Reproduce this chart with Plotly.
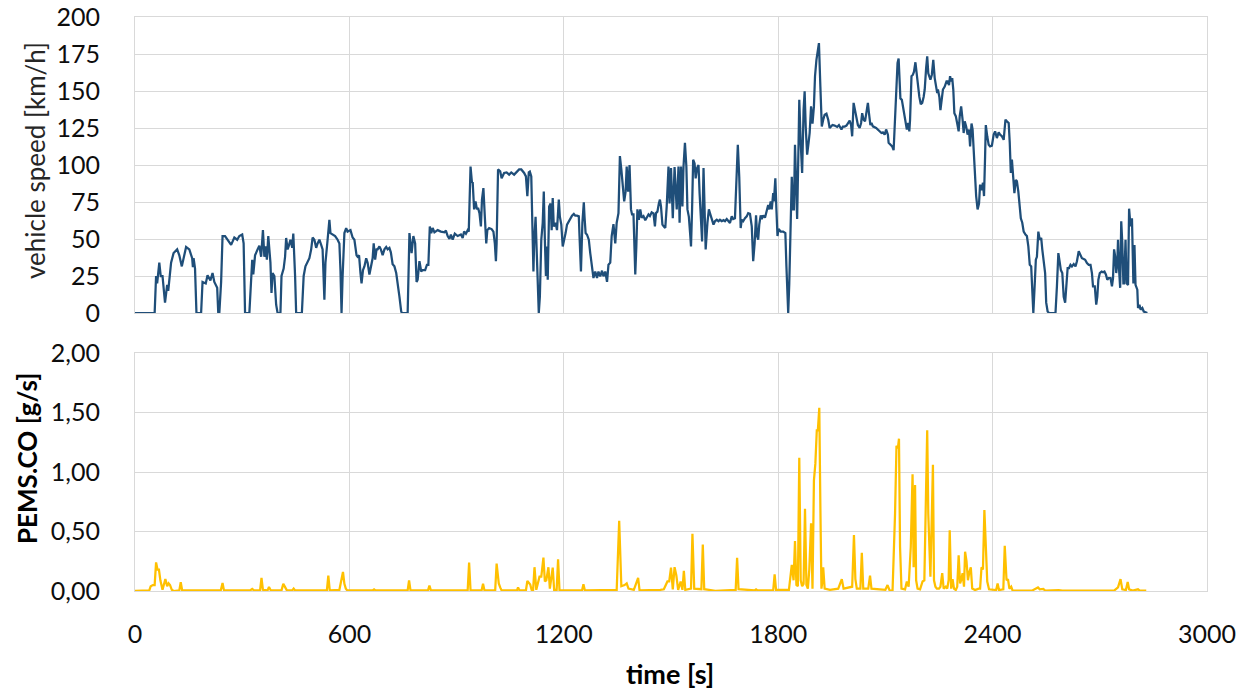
import plotly.graph_objects as go
from plotly.subplots import make_subplots

# Vehicle speed trace [km/h] over test time [s]
speed_time = [
    0, 30, 45, 50, 55, 59, 62, 68, 72, 77, 84, 90, 93, 101, 108, 118, 124, 131, 137, 143,
    152, 160, 162, 164, 168, 172, 185, 189, 198, 203, 211, 217, 222, 230, 233, 236, 241, 245, 252, 259,
    269, 278, 286, 292, 300, 304, 308, 320, 325, 328, 331, 336, 343, 348, 353, 358, 362, 366, 369, 373,
    379, 382, 385, 390, 395, 399, 407, 410, 416, 420, 423, 427, 430, 435, 440, 443, 448, 451, 467, 472,
    477, 483, 488, 493, 497, 502, 507, 511, 516, 521, 525, 530, 533, 539, 544, 547, 553, 560, 567, 572,
    575, 578, 581, 586, 591, 595, 603, 609, 614, 620, 623, 627, 631, 634, 638, 642, 647, 651, 656, 661,
    665, 668, 672, 676, 679, 684, 688, 693, 698, 703, 707, 712, 716, 721, 726, 731, 735, 740, 745, 747,
    763, 768, 774, 779, 784, 788, 791, 796, 801, 805, 812, 817, 821, 825, 829, 833, 838, 847, 856, 866,
    870, 875, 880, 884, 889, 895, 903, 912, 917, 921, 926, 931, 934, 939, 943, 945, 949, 953, 957, 960,
    964, 968, 971, 975, 979, 983, 986, 991, 998, 1003, 1007, 1010, 1012, 1016, 1022, 1026, 1033, 1040, 1047, 1053,
    1061, 1068, 1075, 1081, 1089, 1094, 1098, 1102, 1105, 1109, 1112, 1115, 1117, 1121, 1124, 1128, 1130, 1133, 1137, 1141,
    1144, 1147, 1150, 1153, 1155, 1159, 1163, 1166, 1169, 1172, 1177, 1181, 1186, 1189, 1193, 1197, 1200, 1205, 1209, 1214,
    1219, 1223, 1228, 1232, 1237, 1242, 1244, 1248, 1252, 1256, 1258, 1261, 1265, 1270, 1274, 1279, 1283, 1288, 1293, 1297,
    1302, 1307, 1311, 1316, 1321, 1325, 1330, 1334, 1339, 1344, 1348, 1353, 1357, 1361, 1365, 1369, 1373, 1376, 1380, 1384,
    1388, 1391, 1395, 1400, 1403, 1406, 1410, 1414, 1418, 1423, 1428, 1432, 1437, 1441, 1446, 1451, 1455, 1458, 1462, 1466,
    1469, 1472, 1476, 1480, 1484, 1488, 1493, 1496, 1500, 1505, 1510, 1516, 1521, 1524, 1528, 1532, 1535, 1539, 1543, 1546,
    1550, 1554, 1556, 1559, 1562, 1566, 1569, 1573, 1577, 1580, 1584, 1587, 1591, 1594, 1597, 1602, 1606, 1609, 1614, 1619,
    1623, 1628, 1633, 1637, 1642, 1647, 1651, 1656, 1661, 1665, 1670, 1674, 1679, 1684, 1687, 1691, 1695, 1698, 1702, 1707,
    1712, 1716, 1721, 1726, 1730, 1734, 1738, 1741, 1744, 1747, 1751, 1754, 1758, 1763, 1767, 1772, 1775, 1779, 1782, 1786,
    1788, 1792, 1795, 1798, 1801, 1807, 1814, 1820, 1823, 1826, 1828, 1831, 1834, 1838, 1841, 1844, 1847, 1850, 1853, 1857,
    1859, 1863, 1867, 1871, 1874, 1877, 1881, 1885, 1888, 1892, 1896, 1900, 1903, 1907, 1911, 1914, 1918, 1922, 1926, 1930,
    1935, 1940, 1944, 1952, 1958, 1965, 1970, 1977, 1981, 1986, 1991, 1995, 2000, 2004, 2007, 2011, 2015, 2019, 2023, 2028,
    2032, 2035, 2039, 2043, 2047, 2051, 2054, 2058, 2061, 2065, 2074, 2084, 2089, 2093, 2098, 2102, 2107, 2109, 2113, 2119,
    2123, 2126, 2130, 2134, 2137, 2140, 2142, 2146, 2149, 2153, 2156, 2160, 2164, 2167, 2169, 2173, 2177, 2180, 2184, 2188,
    2192, 2195, 2199, 2203, 2207, 2210, 2214, 2217, 2220, 2223, 2226, 2230, 2234, 2238, 2242, 2245, 2247, 2251, 2254, 2258,
    2261, 2266, 2271, 2274, 2278, 2281, 2284, 2287, 2290, 2293, 2297, 2301, 2305, 2308, 2312, 2316, 2319, 2322, 2326, 2330,
    2334, 2337, 2341, 2344, 2347, 2350, 2354, 2358, 2362, 2365, 2369, 2373, 2376, 2379, 2381, 2385, 2389, 2393, 2398, 2403,
    2407, 2412, 2417, 2421, 2426, 2431, 2436, 2440, 2445, 2448, 2451, 2454, 2457, 2461, 2465, 2468, 2472, 2476, 2479, 2483,
    2487, 2492, 2496, 2500, 2504, 2508, 2512, 2514, 2518, 2521, 2524, 2528, 2532, 2536, 2539, 2543, 2547, 2550, 2554, 2558,
    2576, 2580, 2584, 2588, 2591, 2595, 2599, 2603, 2606, 2610, 2614, 2618, 2622, 2627, 2632, 2636, 2641, 2646, 2650, 2655,
    2659, 2664, 2669, 2674, 2678, 2681, 2686, 2690, 2693, 2696, 2700, 2705, 2709, 2713, 2717, 2721, 2725, 2730, 2734, 2737,
    2740, 2743, 2746, 2749, 2751, 2754, 2757, 2760, 2763, 2766, 2768, 2772, 2775, 2779, 2782, 2786, 2790, 2794, 2797, 2800,
    2805, 2807, 2811, 2814, 2819, 2823, 2828, 2833,
]
speed_kmh = [
    0, 0, 0.5, 0, 0, 25, 20, 34, 25, 25, 7, 19, 15, 34, 40.5, 43, 39, 31.5, 38, 44.6,
    43, 37, 31, 37, 30, 0, 0, 21, 20, 25.5, 22, 27, 21, 17, 0, 0, 21, 52, 52, 49.5,
    46, 51, 49.5, 52, 53, 47, 0, 0, 29, 36, 26, 39, 43, 45.5, 38, 56, 38, 45, 36, 52,
    34, 13.5, 27, 25, 5.6, 0, 0, 25, 30, 38, 50.7, 43, 45, 49.5, 44, 53.6, 25, 0, 0, 25,
    31.5, 35, 37, 43, 51, 49.5, 44, 47, 49.5, 46, 43, 9, 34, 49.5, 63, 54, 53, 52, 49.5, 47,
    29, 0, 25, 54, 57.4, 55, 56, 51, 49.5, 39, 38, 39, 27, 20, 29, 31.5, 37, 34, 26, 31.5,
    37, 47, 36, 43, 43, 45, 43, 39, 43, 44.6, 43, 44, 41, 33, 31.5, 27, 18, 11, 1, 0,
    0, 54, 40.5, 52, 47, 21, 22.5, 35, 28, 29, 29, 32.6, 32.6, 58.5, 54, 57.4, 54.5, 56, 55, 54.5,
    55.7, 52, 50, 53, 49.5, 53.6, 52, 53, 50.7, 55, 53.6, 56, 55, 99, 88, 88.4, 70, 75.4, 70, 71,
    67.5, 58.5, 76.6, 84.4, 65, 47, 56, 57.4, 56.7, 55, 47, 35, 47, 97, 95.7, 91, 94.6, 95, 93.5, 95,
    93.5, 95, 97, 97, 94.6, 92.3, 79, 95, 95.5, 92.3, 58.5, 28, 47, 65, 43, 9, 0, 11, 49.5, 61,
    82, 49.5, 25, 45, 22.5, 72, 74, 56, 77.7, 58.5, 61, 56, 76.6, 65, 59.7, 45, 49.5, 54, 59.7, 62,
    64, 65.8, 67, 65.8, 65.8, 65.3, 52, 28, 61, 74.8, 65, 54, 52.9, 49.5, 40.5, 31.5, 23.6, 28, 23.6, 28,
    24.8, 28.6, 24.8, 28, 21, 32.6, 34, 52, 60, 47, 61, 67.5, 106, 97, 88, 75.4, 82, 99, 82, 100,
    70, 66.6, 66.6, 26, 45, 70, 63, 70, 64.4, 65.5, 62.7, 65, 66.6, 65.5, 68, 67.3, 58.5, 67.5, 68.5, 74,
    76.6, 72, 59.7, 58.5, 57.4, 72, 99, 74, 98, 64, 98.6, 70, 99, 61, 99, 72, 99, 115, 99, 70,
    65, 52, 45, 70, 103.6, 101, 91, 98, 100, 81, 58.5, 48.4, 98, 58.5, 43, 61, 70, 67.5, 63, 59.7,
    62, 63, 62, 63, 62, 62.7, 62, 63.5, 62, 60.8, 65.3, 63.5, 64, 92, 113.7, 92, 57.4, 63, 62, 64,
    65.3, 67.5, 67, 58.5, 35, 47, 66, 52, 49.5, 59.7, 66, 63.5, 66, 64.4, 68, 73, 70, 75.4, 70, 81,
    75.4, 91, 70, 52, 56.7, 55, 55, 54, 31.5, 9, 0, 20, 47, 92, 70, 70, 113.7, 88, 63.5, 115,
    144, 115, 94.6, 137, 149.8, 126, 107, 115, 121.6, 139.6, 128, 139.6, 160, 171, 180, 182.4, 153, 126, 130.6, 134,
    134.7, 130.6, 125, 127, 126.6, 125.7, 127, 124, 126, 126, 126.6, 128, 130, 127, 119.4, 142, 137.5, 133, 127, 125,
    128.4, 135, 130.6, 129.5, 135, 142, 135, 127, 128.4, 126.1, 125, 122.7, 121.6, 122, 120.5, 124, 120.5, 115, 113.7, 112.6,
    110, 124, 146, 169, 172, 160, 145, 144, 139.6, 133, 127, 124, 128.4, 122.7, 130.6, 160, 161, 163, 169.4, 160,
    154, 146, 141, 142, 146, 151, 165.6, 173.4, 162, 158.7, 157.6, 161, 171, 158.7, 154, 148.6, 151, 146, 137, 144,
    151, 153, 156.5, 156.5, 154, 160, 156.5, 158.7, 151, 135, 133, 128, 122.7, 133, 139.6, 130.6, 121.6, 129.5, 126, 120.5,
    124, 112.6, 128, 124, 108, 97, 79, 70, 74, 86.7, 83, 88, 79, 106, 127, 119.4, 113.7, 112.6, 113, 120.5,
    122.7, 118.2, 122, 120.5, 119.4, 117, 130.6, 129.5, 128.4, 115, 94.6, 103.6, 93.5, 81, 90, 89, 82, 74, 64, 61,
    55, 53, 52, 45, 32.6, 31.5, 13.5, 0, 20, 36, 38, 55, 49.5, 50.7, 43, 36, 27, 7, 1, 0,
    0, 18, 40.5, 34, 29, 27, 11, 7, 20, 30.4, 30.4, 32.6, 31.5, 33, 31.5, 35, 41.7, 38.3, 37, 36.5,
    36, 33.8, 32.6, 32.6, 27, 18, 18, 5.6, 11, 22.5, 27, 28, 27.5, 28, 26, 22.5, 23.6, 23.6, 18, 23.6,
    43, 38.3, 27, 34, 49.5, 29, 17, 62, 47, 20, 20, 49.5, 20, 19, 70.5, 58.5, 64, 20, 46, 19,
    15.8, 3.4, 5.6, 2.3, 3.4, 1, 0.5, 0,
]

# PEMS carbon monoxide mass flow [g/s] over test time [s]
co_time = [
    0, 40, 44, 50, 55, 59, 63, 67, 71, 77, 85, 90, 94, 98, 103, 108, 124, 128, 132, 240,
    245, 249, 322, 328, 333, 350, 354, 358, 371, 375, 380, 410, 415, 420, 425, 440, 444, 448, 537, 541,
    545, 572, 576, 582, 586, 590, 594, 628, 632, 665, 669, 673, 763, 767, 771, 820, 824, 828, 931, 935,
    939, 970, 974, 978, 1008, 1012, 1018, 1022, 1026, 1069, 1072, 1076, 1094, 1098, 1106, 1110, 1114, 1118, 1123, 1132,
    1137, 1143, 1147, 1151, 1157, 1161, 1169, 1173, 1180, 1184, 1188, 1251, 1255, 1259, 1348, 1355, 1361, 1370, 1376, 1381,
    1396, 1408, 1412, 1470, 1480, 1490, 1495, 1500, 1505, 1510, 1515, 1520, 1527, 1532, 1536, 1540, 1556, 1560, 1565, 1585,
    1589, 1593, 1624, 1681, 1685, 1689, 1734, 1738, 1742, 1786, 1790, 1794, 1830, 1838, 1843, 1847, 1851, 1855, 1859, 1863,
    1867, 1871, 1875, 1879, 1883, 1887, 1892, 1896, 1900, 1904, 1908, 1911, 1915, 1918, 1921, 1924, 1926, 1930, 1945, 1968,
    1978, 1983, 2007, 2012, 2016, 2020, 2030, 2034, 2038, 2052, 2057, 2061, 2100, 2106, 2112, 2120, 2127, 2131, 2135, 2138,
    2141, 2145, 2155, 2160, 2165, 2171, 2176, 2179, 2183, 2186, 2190, 2197, 2204, 2209, 2213, 2217, 2220, 2223, 2226, 2230,
    2233, 2236, 2240, 2244, 2250, 2254, 2259, 2263, 2269, 2273, 2277, 2280, 2284, 2288, 2292, 2297, 2301, 2305, 2309, 2312,
    2316, 2320, 2323, 2327, 2331, 2335, 2339, 2343, 2351, 2361, 2365, 2369, 2373, 2377, 2381, 2385, 2390, 2405, 2410, 2414,
    2418, 2430, 2434, 2439, 2443, 2447, 2452, 2456, 2510, 2527, 2532, 2542, 2547, 2585, 2595, 2740, 2751, 2758, 2763, 2773,
    2778, 2782, 2792, 2807, 2812, 2830,
]
co_gs = [
    0, 0.005, 0.04, 0.05, 0.05, 0.24, 0.18, 0.18, 0.09, 0.01, 0.10, 0.04, 0.065, 0.05, 0.01, 0, 0.005, 0.073, 0.005, 0.005,
    0.067, 0.005, 0.005, 0.017, 0.005, 0.005, 0.11, 0.01, 0.005, 0.034, 0.005, 0.005, 0.06, 0.035, 0.005, 0.005, 0.02, 0.005, 0.005, 0.13,
    0.005, 0.01, 0.075, 0.16, 0.06, 0.02, 0.005, 0.01, 0.005, 0.005, 0.014, 0.005, 0.005, 0.09, 0.005, 0.005, 0.045, 0.005, 0.005, 0.24,
    0.005, 0.005, 0.06, 0.005, 0.005, 0.23, 0.064, 0.03, 0.005, 0.005, 0.03, 0.005, 0.005, 0.084, 0.055, 0.01, 0.005, 0.2, 0.01, 0.12,
    0.12, 0.28, 0.08, 0.09, 0.2, 0.02, 0.196, 0.01, 0.01, 0.266, 0.005, 0.005, 0.056, 0.005, 0.01, 0.59, 0.04, 0.05, 0.064, 0.02,
    0.01, 0.11, 0.005, 0.01, 0.014, 0.08, 0.08, 0.196, 0.014, 0.2, 0.13, 0.01, 0.08, 0.01, 0.17, 0.01, 0.02, 0.48, 0.02, 0.015,
    0.39, 0.015, 0.002, 0.01, 0.28, 0.015, 0.005, 0.014, 0.005, 0.005, 0.14, 0.01, 0.01, 0.22, 0.09, 0.42, 0.05, 0.04, 1.12, 0.09,
    0.04, 0.06, 0.69, 0.05, 0.02, 0.18, 0.57, 0.02, 0.93, 1.07, 1.35, 1.35, 1.54, 0.71, 0.02, 0.09, 0.2, 0.02, 0.01, 0.02,
    0.1, 0.02, 0.036, 0.47, 0.1, 0.02, 0.02, 0.32, 0.02, 0.02, 0.13, 0.02, 0.01, 0.05, 0.003, 0.003, 0.65, 1.22, 1.2, 1.28,
    0.37, 0.02, 0.014, 0.08, 0.036, 0.37, 0.98, 0.2, 0.89, 0.09, 0.02, 0.014, 0.08, 0.09, 0.93, 1.35, 0.65, 0.29, 0.12, 0.65,
    1.06, 0.09, 0.036, 0.02, 0.02, 0.036, 0.15, 0.02, 0.036, 0.02, 0.09, 0.51, 0.02, 0.1, 0.02, 0.008, 0.036, 0.3, 0.064, 0.09,
    0.15, 0.036, 0.33, 0.25, 0.09, 0.16, 0.2, 0.02, 0.008, 0.02, 0.02, 0.2, 0.18, 0.68, 0.37, 0.08, 0.014, 0.014, 0.008, 0.064,
    0.008, 0.014, 0.38, 0.09, 0.1, 0.02, 0.036, 0.003, 0.003, 0.03, 0.014, 0.017, 0.003, 0.008, 0.003, 0.003, 0.03, 0.1, 0.014, 0.008,
    0.075, 0.014, 0.003, 0.014, 0.003, 0.003,
]

# Axis ticks
time_ticks = [0, 600, 1200, 1800, 2400, 3000]
speed_ticks = [0, 25, 50, 75, 100, 125, 150, 175, 200]
co_ticks = [0.0, 0.5, 1.0, 1.5, 2.0]
co_tick_text = ["0,00", "0,50", "1,00", "1,50", "2,00"]

FONT = "Lato, 'Open Sans', sans-serif"
GRID = "#d9d9d9"
TEXT = "#0d0d0d"
TICK_SIZE = 25

fig = make_subplots(rows=2, cols=1, shared_xaxes=True, vertical_spacing=0.0)

fig.add_trace(go.Scatter(x=speed_time, y=speed_kmh, mode="lines",
                         line=dict(color="#1f4e79", width=2.25), showlegend=False),
              row=1, col=1)
fig.add_trace(go.Scatter(x=co_time, y=co_gs, mode="lines",
                         line=dict(color="#ffc000", width=2.25), showlegend=False),
              row=2, col=1)

plot_h = 693 - 17 - 102
fig.update_layout(
    width=1243, height=693,
    margin=dict(l=135, r=36, t=17, b=102, autoexpand=False),
    paper_bgcolor="white", plot_bgcolor="white",
    font=dict(family=FONT, size=TICK_SIZE, color=TEXT),
    showlegend=False,
)

common_x = dict(range=[0, 3000], tickvals=time_ticks, showgrid=True, gridcolor=GRID,
                gridwidth=1, zeroline=False, showline=True, linecolor=GRID, mirror=True,
                automargin=False)
fig.update_xaxes(**common_x, showticklabels=False, row=1, col=1)
fig.update_xaxes(**common_x, showticklabels=True, ticks="outside", ticklen=21,
                 tickcolor="rgba(0,0,0,0)",
                 tickfont=dict(family=FONT, size=TICK_SIZE, color=TEXT), row=2, col=1)

common_y = dict(showgrid=True, gridcolor=GRID, zeroline=False, showline=True,
                linecolor=GRID, mirror=True, ticks="outside", ticklen=29,
                tickcolor="rgba(0,0,0,0)", automargin=False,
                tickfont=dict(family=FONT, size=TICK_SIZE, color=TEXT))
fig.update_yaxes(range=[0, 200], tickvals=speed_ticks, **common_y,
                 domain=[(591 - 313) / plot_h, 1.0], row=1, col=1)
fig.update_yaxes(range=[0, 2.0], tickvals=co_ticks, ticktext=co_tick_text, **common_y,
                 domain=[0.0, (591 - 353) / plot_h], row=2, col=1)

# Axis titles
plot_w = 1243 - 135 - 36
fig.add_annotation(text="vehicle speed [km/h]", xref="paper", yref="paper",
                   x=(35 - 135) / plot_w, y=(591 - 161) / plot_h, textangle=-90,
                   showarrow=False, xanchor="center", yanchor="middle",
                   font=dict(family=FONT, size=26, color="#262626"))
fig.add_annotation(text="<b>PEMS.CO [g/s]</b>", xref="paper", yref="paper",
                   x=(27 - 135) / plot_w, y=(591 - 459) / plot_h, textangle=-90,
                   showarrow=False, xanchor="center", yanchor="middle",
                   font=dict(family=FONT, size=26, color="#000000"))
fig.add_annotation(text="<b>time [s]</b>", xref="paper", yref="paper",
                   x=(670 - 135) / plot_w, y=(591 - 673) / plot_h,
                   showarrow=False, xanchor="center", yanchor="middle",
                   font=dict(family=FONT, size=27, color="#000000"))

fig.write_html("out.html")
